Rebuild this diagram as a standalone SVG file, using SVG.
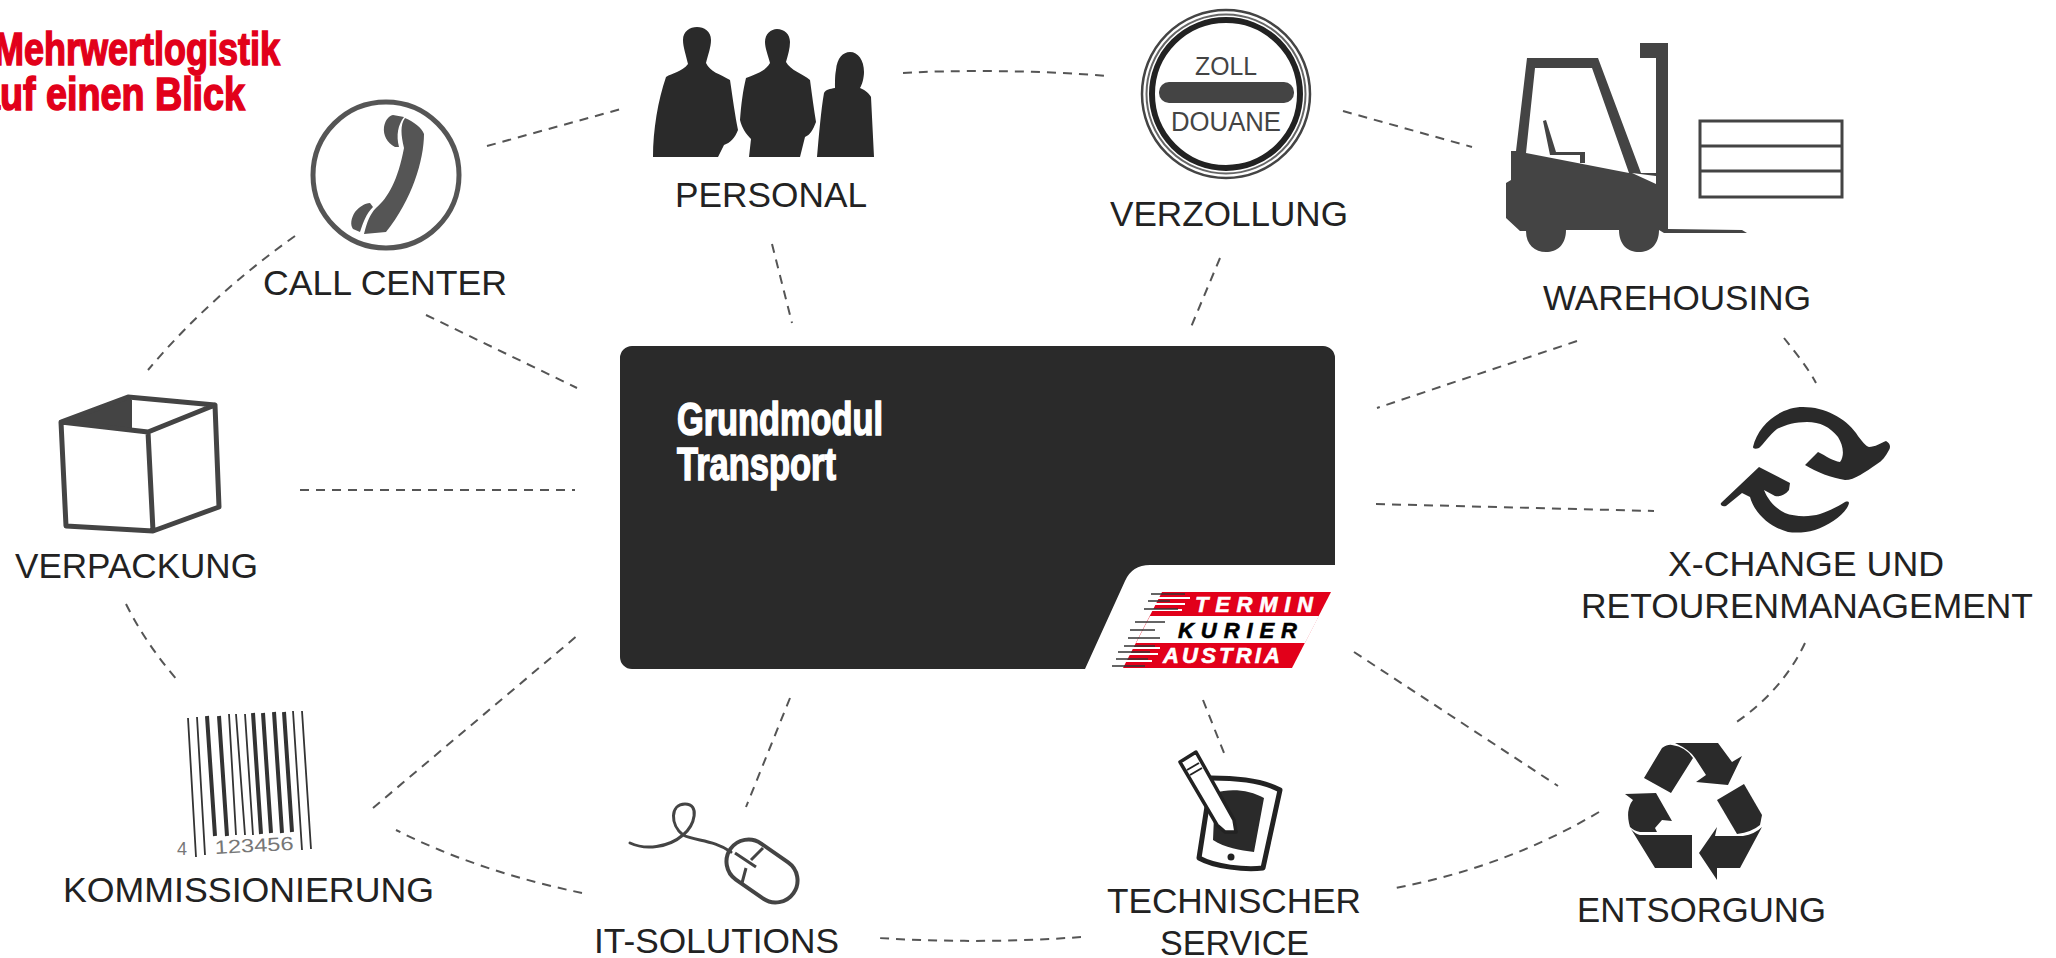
<svg xmlns="http://www.w3.org/2000/svg" width="2056" height="958" viewBox="0 0 2056 958">
<style>
.lb{font-family:"Liberation Sans",Arial,sans-serif;font-size:35px;fill:#222}
.cd{font-family:"Liberation Sans",Arial,sans-serif;font-weight:700;stroke-width:1.6px}
.ic{fill:#2a2a2a}
.ig{fill:#444}
.ol{fill:none;stroke:#444}
.lg{font-family:"Liberation Sans",Arial,sans-serif;font-weight:700;font-style:italic;font-size:22px;stroke-width:.6px}
#connectors path{fill:none;stroke:#555;stroke-width:2;stroke-dasharray:9 7}
</style>
<rect width="2056" height="958" fill="#fff"/>
<g id="title">
<text class="cd" x="-6" y="65" font-size="47" fill="#e2001a" stroke="#e2001a" textLength="286" lengthAdjust="spacingAndGlyphs">Mehrwertlogistik</text>
<text class="cd" x="-21" y="110" font-size="47" fill="#e2001a" stroke="#e2001a" textLength="266" lengthAdjust="spacingAndGlyphs">auf einen Blick</text>
</g>
<g id="connectors">
<path d="M487 146L621 109"/>
<path d="M295 236C240 275 190 320 148 370"/>
<path d="M426 315L577 388"/>
<path d="M903 73C950 70 1040 70 1107 76"/>
<path d="M772 244L792 323"/>
<path d="M1220 258L1191 327"/>
<path d="M1343 111L1472 147"/>
<path d="M1577 341L1377 408"/>
<path d="M1784 338C1795 352 1808 368 1816 383"/>
<path d="M1376 504L1654 511"/>
<path d="M1805 643C1790 675 1765 703 1735 723"/>
<path d="M1354 652L1558 786"/>
<path d="M1599 812C1535 850 1465 875 1395 888"/>
<path d="M1203 700L1224 753"/>
<path d="M1081 937C1015 942 945 942 878 938"/>
<path d="M790 698L746 807"/>
<path d="M582 893C520 880 455 860 396 830"/>
<path d="M373 808L578 635"/>
<path d="M126 604C140 632 158 658 178 681"/>
<path d="M300 490H575"/>
</g>
<g id="panel">
<path class="ic" d="M632 346H1323a12 12 0 0 1 12 12V565H1150q-18 0-25 16L1085 669H632a12 12 0 0 1-12-12V358a12 12 0 0 1 12-12Z"/>
<text class="cd" x="677" y="435" font-size="47" fill="#fff" stroke="#fff" textLength="206" lengthAdjust="spacingAndGlyphs">Grundmodul</text>
<text class="cd" x="677" y="480" font-size="47" fill="#fff" stroke="#fff" textLength="159" lengthAdjust="spacingAndGlyphs">Transport</text>
</g>
<g id="logo">
<path fill="#e2001a" d="M1162 592H1331L1292 668H1123Z"/>
<path fill="#fff" d="M1150 616H1319L1305 643H1136Z"/>
<path stroke="#fff" stroke-width="2" fill="none" d="M1150 598H1190M1150 604H1185M1150 610H1182M1125 648H1160M1122 654H1158M1120 661H1152"/>
<path stroke="#333" stroke-width="1.500" fill="none" d="M1151 594H1185M1148 601H1170M1144 609H1178M1135 622H1165M1130 630H1155M1128 638H1160M1124 646H1155M1118 652H1150M1116 659H1148M1112 666H1145"/>
<text class="lg" x="1195" y="612" fill="#fff" stroke="#fff" textLength="118" lengthAdjust="spacing">TERMIN</text>
<text class="lg" x="1178" y="638" fill="#000" stroke="#000" textLength="119" lengthAdjust="spacing">KURIER</text>
<text class="lg" x="1163" y="663" fill="#fff" stroke="#fff" textLength="117" lengthAdjust="spacing">AUSTRIA</text>
</g>
<g id="call-center">
<circle cx="386" cy="175" r="73" fill="none" stroke="#555" stroke-width="5"/>
<path fill="#555" d="M405 118C414 122 422 128 424 134C424 160 412 200 386 232L364 234C367 222 370 214 376 208C388 198 398 180 404 148C401 135 400 125 405 118Z"/>
<path fill="#555" d="M393 115L404 117C398 125 396 135 399 147L395 147C387 143 383 135 384 127C385 121 388 116 393 115ZM370 203L373 207C366 214 363 223 360 232L353 229C350 225 351 218 355 212C359 207 365 203 370 203Z"/>
<text class="lb" x="263" y="295" textLength="244" lengthAdjust="spacingAndGlyphs">CALL CENTER</text>
</g>
<g id="personal">
<path class="ic" d="M653 157C653 130 658 100 666 77C672 73 682 72 688 64C686 55 683 47 683 40C683 31 690 27 697 27C704 27 711 31 711 40C711 47 708 55 706 63C710 72 720 74 730 80C733 100 735 115 738 130C735 138 730 143 724 145L718 157Z"/>
<path class="ic" d="M749 157L751 139C746 134 742 128 740 120C741 105 743 90 746 78C755 74 765 72 770 63C768 55 765 48 765 42C765 34 771 29 777 29C784 29 790 34 790 42C790 48 788 55 786 62C790 70 803 74 810 80C812 95 814 110 816 122C813 130 810 135 805 137L800 157Z"/>
<path class="ic" d="M817 157C819 135 821 110 824 93C826 89 830 89 835 88C835 80 835 75 836 70C837 58 843 52 850 52C858 52 864 60 864 72C864 78 862 85 860 88C866 90 870 95 871 97L874 157Z"/>
<text class="lb" x="675" y="207" textLength="192" lengthAdjust="spacingAndGlyphs">PERSONAL</text>
</g>
<g id="verzollung">
<circle cx="1226" cy="94" r="84" fill="none" stroke="#444" stroke-width="2.500"/>
<circle cx="1226" cy="94" r="79.500" fill="none" stroke="#666" stroke-width="2"/>
<circle cx="1226" cy="94" r="74" fill="none" stroke="#222" stroke-width="6"/>
<rect x="1159" y="82" width="135" height="21" rx="10" fill="#444"/>
<text x="1195" y="75" font-family="Liberation Sans,Arial,sans-serif" font-size="26" fill="#444" textLength="62" lengthAdjust="spacingAndGlyphs">ZOLL</text>
<text x="1171" y="131" font-family="Liberation Sans,Arial,sans-serif" font-size="27" fill="#444" textLength="110" lengthAdjust="spacingAndGlyphs">DOUANE</text>
<text class="lb" x="1110" y="226" textLength="238" lengthAdjust="spacingAndGlyphs">VERZOLLUNG</text>
</g>
<g id="warehousing">
<path class="ig" d="M1511 151L1516 151L1527 58H1598L1641 173L1656 173V58H1640V43H1668V229L1742 230L1747 233H1664L1659 230C1659 245 1650 252 1639 252C1628 252 1619 245 1619 230H1566C1566 245 1557 252 1546 252C1535 252 1526 245 1526 231H1520L1506 218V183L1511 180ZM1535 68L1526 153L1629 173L1592 68ZM1632 173L1656 184V176L1632 173Z"/>
<path fill="#444" d="M1543 121L1546 120L1556 152H1585V163L1580 163V155H1550Z"/>
<rect x="1700" y="121" width="142" height="76" fill="none" stroke="#444" stroke-width="3"/>
<path class="ol" stroke-width="3" d="M1700 146H1842M1700 171H1842"/>
<text class="lb" x="1543" y="310" textLength="268" lengthAdjust="spacingAndGlyphs">WAREHOUSING</text>
</g>
<g id="x-change">
<path class="ic" d="M1753 447C1758 425 1780 407 1803 407C1825 407 1845 418 1856 433C1862 442 1866 446 1869 447C1875 447 1881 443 1886 441C1890 443 1891 447 1889 450C1886 456 1882 461 1877 464C1865 472 1855 480 1845 480C1832 478 1816 472 1805 465L1818 452C1826 456 1833 461 1840 462C1845 455 1843 445 1838 437C1830 427 1820 422 1807 422C1795 422 1785 425 1777 429C1770 434 1763 445 1759 448C1756 449 1753 449 1753 447Z"/>
<path class="ic" d="M1849 503C1847 513 1830 525 1815 530C1805 533 1795 533 1788 532C1772 528 1755 515 1750 497L1742 493L1726 506C1722 507 1720 505 1721 503L1759 467L1790 483L1789 490C1785 495 1780 497 1775 496L1764 490C1768 500 1775 508 1785 513C1795 517 1810 517 1820 514C1832 510 1840 505 1845 502C1848 501 1849 502 1849 503Z"/>
<text class="lb" x="1668" y="576" textLength="276" lengthAdjust="spacingAndGlyphs">X-CHANGE UND</text>
<text class="lb" x="1581" y="618" textLength="452" lengthAdjust="spacingAndGlyphs">RETOURENMANAGEMENT</text>
</g>
<g id="entsorgung">
<path class="ic" d="M1644 778L1662 748Q1668 744 1672 745Q1686 747 1693 758L1671 793Z"/>
<path class="ic" d="M1675 743H1718L1732 762L1742 756L1728 785L1696 782L1706 775L1695 758Q1690 750 1675 743Z"/>
<path class="ic" d="M1717 800L1744 784L1762 815L1760 825Q1752 832 1737 834Z"/>
<path class="ic" d="M1717 827L1715 836H1743Q1755 834 1762 827L1740 868H1717V880L1699 853Z"/>
<path class="ic" d="M1625 794L1656 793L1672 821L1662 820L1655 828L1657 832H1640Q1634 831 1630 827Q1625 810 1633 800Z"/>
<path class="ic" d="M1631 829Q1635 834 1640 835H1692V868H1655Z"/>
<text class="lb" x="1577" y="922" textLength="249" lengthAdjust="spacingAndGlyphs">ENTSORGUNG</text>
</g>
<g id="technischer-service">
<path d="M1211 778C1235 778 1262 780 1280 790L1263 868C1245 870 1215 867 1199 858L1208 800" fill="#fff" stroke="#222" stroke-width="5" stroke-linejoin="round"/>
<path class="ic" d="M1215 793C1230 788 1250 790 1264 798L1254 852C1240 850 1225 848 1213 840Z"/>
<path d="M1180 762L1196 752L1234 820L1236 832L1225 832L1217 825Z" fill="#fff" stroke="#222" stroke-width="3.500" stroke-linejoin="round"/>
<path d="M1187 770L1199 763M1190 775L1202 768" stroke="#222" stroke-width="2"/>
<circle cx="1231" cy="857" r="3.500" fill="#222"/>
<text class="lb" x="1107" y="913" textLength="254" lengthAdjust="spacingAndGlyphs">TECHNISCHER</text>
<text class="lb" x="1160" y="955" textLength="149" lengthAdjust="spacingAndGlyphs">SERVICE</text>
</g>
<g id="it-solutions">
<rect x="723.500" y="849" width="77" height="44" rx="22" transform="rotate(35 762 871)" fill="none" stroke="#444" stroke-width="4"/>
<path class="ol" stroke-width="3" stroke-linecap="round" d="M630 843C645 850 668 848 683 835C695 825 700 804 685 804C670 804 670 825 683 835C695 841 715 840 731 852"/>
<path class="ol" stroke-width="3" d="M763 848L751 860M742 883L746 868M735 853L756 867"/>
<text class="lb" x="594" y="953" textLength="245" lengthAdjust="spacingAndGlyphs">IT-SOLUTIONS</text>
</g>
<g id="kommissionierung">
<g fill="none" stroke="#333">
<path stroke-width="1.800" d="M188 718L196 857M197 717L205 855M229 714L236 835M236 714L245 835M245 714L253 835M293 711L302 850M302 711L311 849"/>
<path stroke-width="4" d="M207 716L215 836M219 716L227 836M253 713L261 834M263 713L271 833M274 712L282 833M284 712L292 832"/>
</g>
<text x="177" y="855" font-family="Liberation Sans,Arial,sans-serif" font-size="18" fill="#777">4</text>
<text x="215" y="854" font-family="Liberation Sans,Arial,sans-serif" font-size="19" fill="#777" textLength="79" lengthAdjust="spacingAndGlyphs" transform="rotate(-3 215 854)">123456</text>
<text class="lb" x="63" y="902" textLength="371" lengthAdjust="spacingAndGlyphs">KOMMISSIONIERUNG</text>
</g>
<g id="verpackung">
<path fill="#444" d="M61 422L128 397L132 400V431Z"/>
<path class="ol" stroke-width="5" stroke-linejoin="round" d="M61 422L148 432L153 531L66 526ZM148 432L215 405L219 507L153 531M61 422L128 397L215 405"/>
<text class="lb" x="15" y="578" textLength="243" lengthAdjust="spacingAndGlyphs">VERPACKUNG</text>
</g>
</svg>
